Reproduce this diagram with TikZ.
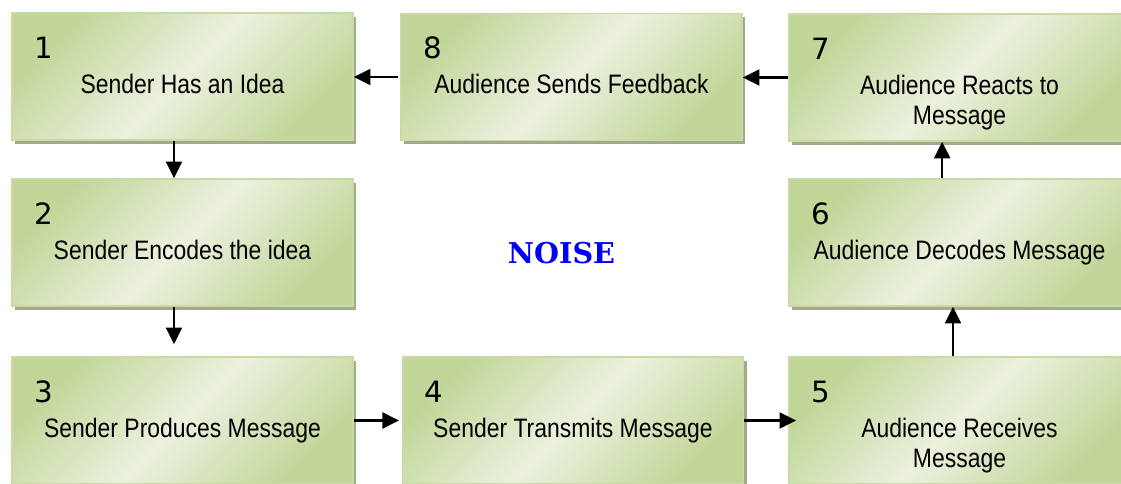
\documentclass[tikz,border=0pt]{standalone}
\usepackage{fontspec}
\setmainfont[FakeStretch=0.86]{Liberation Sans}
\newfontfamily\numfont{DejaVu Sans}
\newfontfamily\noisefont{DejaVu Serif}
\usetikzlibrary{arrows.meta,shadows}
\definecolor{gdark}{HTML}{C2D699}
\definecolor{glight}{HTML}{EBF1DE}
\definecolor{gborder}{HTML}{C9DBA5}
\definecolor{gshadow}{HTML}{A4A98D}
\tikzset{
  stepbox/.style={draw=gborder, line width=1.2pt, minimum width=255.75pt, minimum height=95.25pt,
    inner sep=0pt, left color=gdark, right color=gdark, middle color=glight, shading angle=45,
    drop shadow={shadow xshift=2.25pt, shadow yshift=-3pt, fill=gshadow, opacity=1}},
  stepnum/.style={anchor=base west, inner sep=0pt, font=\numfont\fontsize{22}{24}\selectfont},
  steptext/.style={anchor=north, inner sep=0pt, align=center, font=\fontsize{20}{22.5}\selectfont},
  connector/.style={-{Triangle[length=12.5pt,width=12pt]}, line width=1.8pt}
}
\begin{document}
\begin{tikzpicture}[x=0.75pt,y=0.75pt]
\useasboundingbox (0,0) rectangle (1121,-484);
\clip (0,0) rectangle (1121,-484);

\node [stepbox] (b1) at (182.5,-76.5) {};
\node [stepbox] (b8) at (571.5,-77) {};
\node [stepbox] (b7) at (959.5,-77.5) {};
\node [stepbox] (b2) at (182.5,-242.5) {};
\node [stepbox] (b6) at (959.5,-242.5) {};
\node [stepbox] (b3) at (182.5,-420.5) {};
\node [stepbox] (b4) at (573,-420.5) {};
\node [stepbox] (b5) at (959.5,-420.5) {};

\node [stepnum] (n1) at ([shift={(23,-46)}]b1.north west) {1};
\node [stepnum] (n2) at ([shift={(23,-46)}]b2.north west) {2};
\node [stepnum] (n3) at ([shift={(23,-46)}]b3.north west) {3};
\node [stepnum] (n4) at ([shift={(23,-46)}]b4.north west) {4};
\node [stepnum] (n5) at ([shift={(23,-46)}]b5.north west) {5};
\node [stepnum] (n6) at ([shift={(23,-46)}]b6.north west) {6};
\node [stepnum] (n7) at ([shift={(23,-46)}]b7.north west) {7};
\node [stepnum] (n8) at ([shift={(23,-46)}]b8.north west) {8};

\node [steptext] (t1) at ([yshift=-46pt]b1.north) {Sender Has an Idea};
\node [steptext] (t2) at ([yshift=-46pt]b2.north) {Sender Encodes the idea};
\node [steptext] (t3) at ([yshift=-46pt]b3.north) {Sender Produces Message};
\node [steptext] (t4) at ([yshift=-46pt]b4.north) {Sender Transmits Message};
\node [steptext] (t5) at ([yshift=-46pt]b5.north) {Audience Receives\\Message};
\node [steptext] (t6) at ([yshift=-46pt]b6.north) {Audience Decodes Message};
\node [steptext] (t7) at ([yshift=-46pt]b7.north) {Audience Reacts to\\Message};
\node [steptext] (t8) at ([yshift=-46pt]b8.north) {Audience Sends Feedback};

\node [text=blue, font=\noisefont\bfseries\fontsize{21.5}{24}\selectfont] (noise) at (561.5,-253.5) {NOISE};

\draw [connector, shorten <=2pt] (b8.west) -- (b8.west -| b1.east);
\draw [connector] (b7.west) -- (b7.west -| b8.east);
\draw [connector] ([xshift=-6.4pt]b1.south) -- ([xshift=-6.4pt]b1.south |- b2.north);
\draw [connector, shorten >=9pt] ([xshift=-6.4pt]b2.south) -- ([xshift=-6.4pt]b2.south |- b3.north);
\draw [connector, shorten >=2pt] (b3.east) -- (b3.east -| b4.west);
\draw [connector, shorten >=-6pt] (b4.east) -- (b4.east -| b5.west);
\draw [connector] ([xshift=-4.9pt]b5.north) -- ([xshift=-4.9pt]b5.north |- b6.south);
\draw [connector] ([xshift=-13pt]b6.north) -- ([xshift=-13pt]b6.north |- b7.south);

\end{tikzpicture}
\end{document}
